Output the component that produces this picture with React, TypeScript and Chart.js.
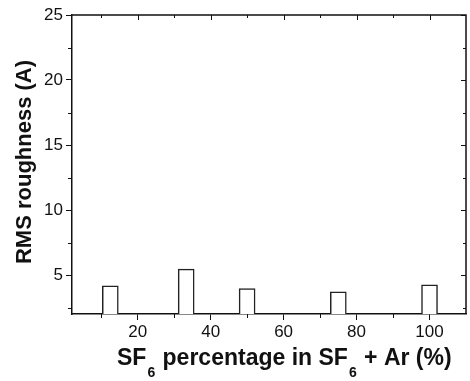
import { useEffect, useRef } from "react";
import { Chart, registerables } from "chart.js";

Chart.register(...registerables);

// ---- data ----
const sf6Percent = [12.5, 33.3, 50, 75, 100];
const rmsRoughness = [4.17, 5.45, 3.95, 3.7, 4.25];
const xMajorTicks = [20, 40, 60, 80, 100];
const xMinorTicks = [10, 30, 50, 70, 90, 110];
const yMajorTicks = [5, 10, 15, 20, 25];
const yMinorTicks = [2.5, 7.5, 12.5, 17.5, 22.5];
const yTitle = "RMS roughness (A)";
const xTitleParts: { t: string; sub?: boolean }[] = [
  { t: "SF" },
  { t: "6", sub: true },
  { t: " percentage in SF" },
  { t: "6", sub: true },
  { t: " + Ar (%)" },
];

const FONT = "'Liberation Sans', Arial, Helvetica, sans-serif";

const decorPlugin = {
  id: "decor",
  afterDraw(chart: any) {
    const { ctx, chartArea, scales } = chart;
    const { left, right, top, bottom } = chartArea;
    ctx.save();
    ctx.strokeStyle = "#111";
    ctx.lineWidth = 1.5;
    // top and right frame
    ctx.beginPath();
    ctx.moveTo(left, top);
    ctx.lineTo(right, top);
    ctx.lineTo(right, bottom);
    ctx.stroke();
    // minor ticks
    ctx.lineWidth = 1;
    ctx.beginPath();
    for (const v of yMinorTicks) {
      const y = Math.round(scales.y.getPixelForValue(v)) + 0.5;
      ctx.moveTo(left - 4, y);
      ctx.lineTo(left, y);
      ctx.moveTo(right, y);
      ctx.lineTo(right - 3, y);
    }
    for (const v of yMajorTicks) {
      const y = Math.round(scales.y.getPixelForValue(v)) + 0.5;
      ctx.moveTo(right, y);
      ctx.lineTo(right - 5, y);
    }
    for (const v of xMinorTicks) {
      const x = Math.round(scales.x.getPixelForValue(v)) + 0.5;
      if (x > right) continue;
      ctx.moveTo(x, bottom);
      ctx.lineTo(x, bottom + 4);
      ctx.moveTo(x, top);
      ctx.lineTo(x, top + 3);
    }
    for (const v of xMajorTicks) {
      const x = Math.round(scales.x.getPixelForValue(v)) + 0.5;
      ctx.moveTo(x, top);
      ctx.lineTo(x, top + 5);
    }
    ctx.stroke();

    // y title
    ctx.fillStyle = "#111";
    ctx.font = `bold 22px ${FONT}`;
    ctx.textAlign = "center";
    ctx.textBaseline = "middle";
    ctx.translate(25, 162);
    ctx.rotate(-Math.PI / 2);
    ctx.fillText(yTitle, 0, 0);
    ctx.setTransform(1, 0, 0, 1, 0, 0);

    // x title with subscripts
    ctx.textAlign = "left";
    ctx.textBaseline = "alphabetic";
    let x = 117;
    const baseY = 365;
    for (const p of xTitleParts) {
      if (p.sub) {
        ctx.font = `bold 14px ${FONT}`;
        ctx.fillText(p.t, x + 1, baseY + 12);
        x += ctx.measureText(p.t).width + 2;
      } else {
        ctx.font = `bold 23px ${FONT}`;
        ctx.fillText(p.t, x, baseY);
        x += ctx.measureText(p.t).width;
      }
    }
    ctx.restore();
  },
};

export default function App() {
  const ref = useRef<HTMLCanvasElement | null>(null);
  useEffect(() => {
    document.body.style.margin = "0";
    const canvas = ref.current!;
    const chart = new Chart(canvas, {
      type: "bar",
      data: {
        datasets: [
          {
            data: sf6Percent.map((x, i) => ({ x, y: rmsRoughness[i] })),
            backgroundColor: "#ffffff",
            borderColor: "#222",
            borderWidth: 1.5,
            borderSkipped: "bottom",
            barThickness: 16,
            base: 2,
          } as any,
        ],
      },
      options: {
        animation: false,
        responsive: false,
        events: [],
        layout: { padding: { top: 15, right: 4, left: 0, bottom: 0 } },
        plugins: {
          legend: { display: false },
          tooltip: { enabled: false },
          title: { display: false },
        },
        scales: {
          x: {
            type: "linear",
            min: 2,
            max: 110,
            offset: false,
            afterBuildTicks: (s: any) => {
              s.ticks = xMajorTicks.map((v) => ({ value: v }));
            },
            afterFit: (s: any) => {
              s.height = 67;
            },
            grid: {
              display: true,
              offset: false,
              drawOnChartArea: false,
              drawTicks: true,
              tickLength: 6,
              color: "#111",
              lineWidth: 1,
            },
            border: { display: true, color: "#111", width: 1.5 },
            ticks: {
              color: "#111",
              font: { family: FONT, size: 17 },
              padding: 2,
              maxRotation: 0,
              autoSkip: false,
            },
          },
          y: {
            type: "linear",
            min: 2,
            max: 25,
            afterBuildTicks: (s: any) => {
              s.ticks = yMajorTicks.map((v) => ({ value: v }));
            },
            afterFit: (s: any) => {
              s.width = 72;
            },
            grid: {
              display: true,
              drawOnChartArea: false,
              drawTicks: true,
              tickLength: 6,
              color: "#111",
              lineWidth: 1,
            },
            border: { display: true, color: "#111", width: 1.5 },
            ticks: {
              color: "#111",
              font: { family: FONT, size: 17 },
              padding: 3,
              autoSkip: false,
            },
          },
        },
      },
      plugins: [decorPlugin],
    });
    return () => chart.destroy();
  }, []);
  return (
    <div style={{ width: 470, height: 381, background: "#fff" }}>
      <canvas ref={ref} width={470} height={381} style={{ display: "block" }} />
    </div>
  );
}
